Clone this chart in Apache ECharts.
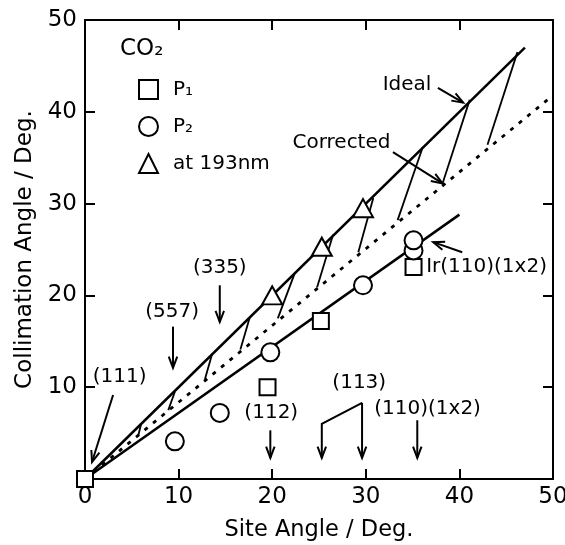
<!DOCTYPE html>
<html><head><meta charset="utf-8">
<script src="https://cdn.jsdelivr.net/npm/echarts@6/dist/echarts.min.js"></script>
<style>html,body{margin:0;padding:0;background:#fff}#c{width:565px;height:545px}</style>
</head><body><div id="c"></div>
<script>
const xTicks = [0, 10, 20, 30, 40, 50];
const yTicks = [10, 20, 30, 40, 50];
const p1 = [[0, 0], [19.5, 10], [25.2, 17.2], [35.1, 23.1]];
const p2 = [[9.6, 4.1], [14.4, 7.2], [19.8, 13.8], [29.7, 21.1], [35.1, 24.9], [35.1, 26.0]];
const tri = [[20, 20], [25.3, 25.3], [29.7, 29.5]];
const ideal = [[0, 0], [47, 47]];
const corrected = [[0, 0], [50, 41.8]];
const p2Fit = [[0, 0], [40, 28.8]];
const hatchTop = [[6, 6], [9.6, 9.5], [13.6, 13.7], [17.6, 17.6], [22.4, 22.4], [26.5, 26.6], [30.8, 30.6], [36.1, 36.2], [41.1, 41.3], [46.2, 46.5]];
const hatchBottom = [[5.7, 4.8], [8.9, 7.5], [12.8, 10.8], [16.6, 14.1], [20.6, 17.5], [24.8, 20.9], [29.2, 24.7], [33.4, 28.2], [38.2, 32.2], [43, 36.4]];
const noteTexts = ['(111)', '(557)', '(335)', '(112)', '(113)', '(110)(1x2)', 'Ideal', 'Corrected', 'Ir(110)(1x2)'];
const notePos = [[3.7, 11.1], [9.3, 18.2], [14.4, 23.0], [19.9, 7.2], [29.3, 10.5], [36.6, 7.7], [34.4, 42.9], [27.4, 36.6], [42.9, 23.1]];
const arrowPaths = [
  [[3.0, 9.15], [0.75, 1.85]],
  [[9.4, 16.6], [9.4, 12.1]],
  [[14.4, 21.1], [14.4, 17.1]],
  [[19.8, 5.3], [19.8, 2.3]],
  [[29.6, 8.3], [25.3, 6.0], [25.3, 2.3]],
  [[29.6, 8.3], [29.6, 2.3]],
  [[35.5, 6.4], [35.5, 2.3]],
  [[37.7, 42.6], [40.4, 41.0]],
  [[32.9, 35.6], [38.2, 32.2]],
  [[40.3, 24.7], [37.2, 25.8]]
];
const legendNames = ['P\u2081', 'P\u2082', 'at 193nm'];

const FONT = 'DejaVu Sans';
const chart = echarts.init(document.getElementById('c'), null, {renderer: 'canvas'});

function arrowItem(params, api) {
  const path = arrowPaths[params.dataIndex];
  const pts = path.map(p => api.coord(p));
  const children = [{type: 'polyline', shape: {points: pts}, style: {stroke: '#000', lineWidth: 2, fill: null}}];
  const a = pts[pts.length - 2], b = pts[pts.length - 1];
  const ang = Math.atan2(b[1] - a[1], b[0] - a[0]);
  const L = 12, w = 0.36;
  const h1 = [b[0] - L * Math.cos(ang - w), b[1] - L * Math.sin(ang - w)];
  const h2 = [b[0] - L * Math.cos(ang + w), b[1] - L * Math.sin(ang + w)];
  children.push({type: 'polyline', shape: {points: [h1, b, h2]}, style: {stroke: '#000', lineWidth: 2, fill: null}});
  return {type: 'group', children};
}
function noteItem(params, api) {
  const p = api.coord(notePos[params.dataIndex]);
  return {type: 'text', x: p[0], y: p[1], style: {text: noteTexts[params.dataIndex], fontFamily: FONT, fontSize: 20, fill: '#000', align: 'center', verticalAlign: 'middle'}};
}

const axisBase = {
  type: 'value', min: 0, max: 50, interval: 10,
  axisLine: {show: true, onZero: false, lineStyle: {color: '#000', width: 2}},
  axisTick: {show: true, inside: true, length: 10, lineStyle: {color: '#000', width: 2}},
  splitLine: {show: false}
};

const option = {
  backgroundColor: '#fff',
  animation: false,
  textStyle: {fontFamily: FONT},
  grid: {left: 85, right: 12, top: 20, bottom: 66, containLabel: false, outerBoundsMode: 'none'},
  legend: {
    orient: 'vertical', left: 133, top: 74, itemWidth: 19, itemHeight: 19, itemGap: 16,
    data: legendNames,
    textStyle: {fontFamily: FONT, fontSize: 20, color: '#000', padding: [0, 0, 0, 10]}
  },
  graphic: [{type: 'text', left: 120, top: 38, style: {text: 'CO\u2082', fontFamily: FONT, fontSize: 23, fill: '#000'}}],
  xAxis: [Object.assign({}, axisBase, {
    name: 'Site Angle / Deg.', nameLocation: 'middle', nameGap: 40,
    nameTextStyle: {fontFamily: FONT, fontSize: 22.5, color: '#000'},
    axisLabel: {fontFamily: FONT, fontSize: 23, color: '#000', margin: 7, formatter: v => xTicks.includes(v) ? String(v) : ''}
  }), Object.assign({}, axisBase, {
    position: 'top', axisLabel: {show: false}
  })],
  yAxis: [Object.assign({}, axisBase, {
    name: 'Collimation Angle / Deg.', nameLocation: 'middle', nameGap: 35,
    nameTextStyle: {fontFamily: FONT, fontSize: 23, color: '#000'},
    axisLabel: {fontFamily: FONT, fontSize: 23, color: '#000', margin: 8, formatter: v => yTicks.includes(v) ? String(v) : ''}
  }), Object.assign({}, axisBase, {
    position: 'right', axisLabel: {show: false}
  })],
  series: [
    {type: 'line', name: 'Ideal', data: ideal, symbol: 'none', lineStyle: {color: '#000', width: 2.5}, z: 2},
    {type: 'line', name: 'Corrected', data: corrected, symbol: 'none', lineStyle: {color: '#000', width: 2.8, type: [4, 7]}, z: 2},
    {type: 'line', name: 'fit', data: p2Fit, symbol: 'none', lineStyle: {color: '#000', width: 2.5}, z: 2},
    {type: 'lines', coordinateSystem: 'cartesian2d', z: 2,
      data: hatchTop.map((t, i) => ({coords: [t, hatchBottom[i]]})),
      lineStyle: {color: '#000', width: 1.8, opacity: 1}},
    {type: 'custom', renderItem: arrowItem, data: arrowPaths.map((_, i) => [i]), z: 3, silent: true},
    {type: 'custom', renderItem: noteItem, data: noteTexts.map((_, i) => [i]), z: 3, silent: true},
    {type: 'scatter', name: legendNames[0], data: p1, symbol: 'rect', symbolSize: 16, clip: false,
      itemStyle: {color: '#fff', borderColor: '#000', borderWidth: 2, opacity: 1}, z: 5},
    {type: 'scatter', name: legendNames[1], data: p2, symbol: 'circle', symbolSize: 18,
      itemStyle: {color: '#fff', borderColor: '#000', borderWidth: 2, opacity: 1}, z: 5},
    {type: 'scatter', name: legendNames[2], data: tri, symbol: 'triangle', symbolSize: [20, 18],
      itemStyle: {color: '#fff', borderColor: '#000', borderWidth: 2, opacity: 1}, z: 5}
  ]
};
chart.setOption(option);
</script></body></html>
